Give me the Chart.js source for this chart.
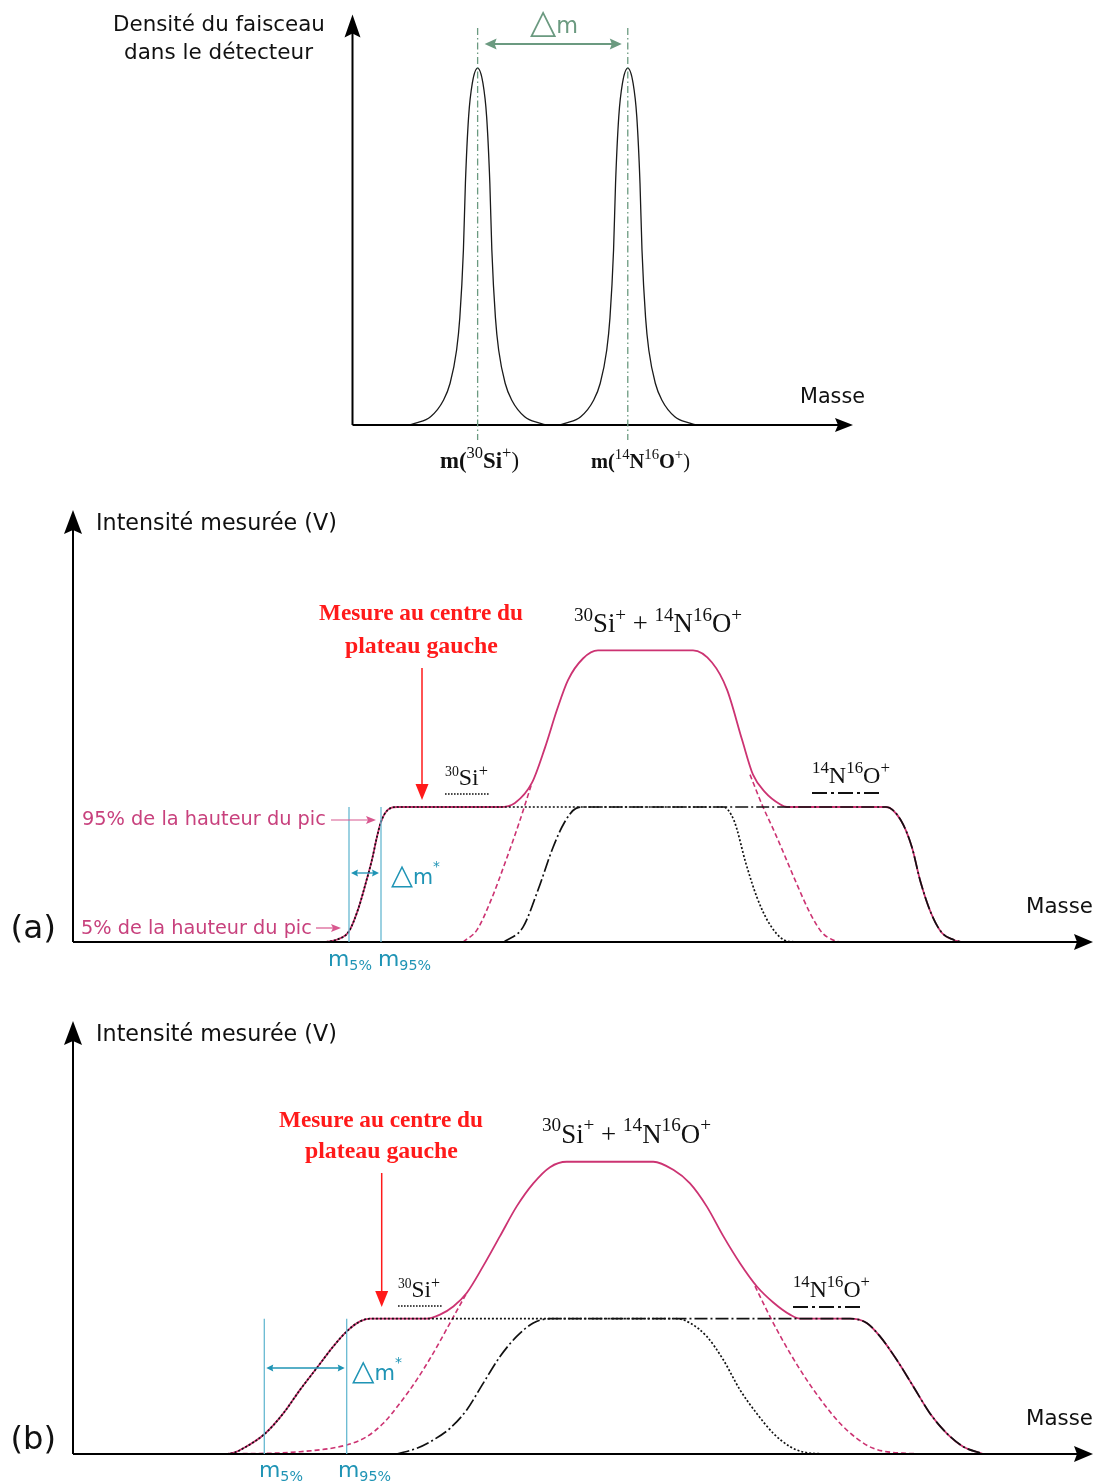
<!DOCTYPE html>
<html><head><meta charset="utf-8">
<script src="https://cdn.jsdelivr.net/npm/chart.js@4/dist/chart.umd.min.js"></script>
<style>
html,body{margin:0;padding:0;background:#fff;}
#wrap{position:relative;width:1093px;height:1483px;overflow:hidden;}
canvas{position:absolute;left:0;top:0;}
</style></head><body><div id="wrap">
<canvas id="cTop" width="1093" height="1483" style="width:1093px;height:1483px"></canvas>
<canvas id="cA" width="1093" height="1483" style="width:1093px;height:1483px"></canvas>
<canvas id="cB" width="1093" height="1483" style="width:1093px;height:1483px"></canvas>
</div>
<script>
// ---------- DATA ----------
// Top panel: beam density in the detector vs mass (arbitrary units)
const topSiMass = [11.4, 12.6, 15.6, 18.2, 19.5, 20.8, 21.44, 22.16, 22.56, 23.2, 23.94, 25, 26.06, 26.8, 27.44, 27.84, 28.56, 29.2, 30.5, 31.8, 34.4, 37.4, 38.6];
const topSiDensity = [0, 0.005, 0.023, 0.07, 0.117, 0.21, 0.30, 0.49, 0.678, 0.864, 0.958, 1, 0.958, 0.864, 0.678, 0.49, 0.30, 0.21, 0.117, 0.07, 0.023, 0.005, 0];
const topNOMass = [41.4, 42.6, 45.6, 48.2, 49.5, 50.8, 51.44, 52.16, 52.56, 53.2, 53.94, 55, 56.06, 56.8, 57.44, 57.84, 58.56, 59.2, 60.5, 61.8, 64.4, 67.4, 68.6];
const topNODensity = [0, 0.005, 0.023, 0.07, 0.117, 0.21, 0.30, 0.49, 0.678, 0.864, 0.958, 1, 0.958, 0.864, 0.678, 0.49, 0.30, 0.21, 0.117, 0.07, 0.023, 0.005, 0];
const topPeakMasses = [25, 55];

// Panel (a): measured intensity (plateau = 1)
const aSiMass = [25.3, 26.5, 27.6, 28.5, 29.4, 29.9, 30.4, 30.8, 31.5, 32.4, 65.0, 66.1, 67.3, 68.4, 69.6, 71.1, 72.2];
const aSiInt  = [0, 0.02, 0.08, 0.24, 0.47, 0.61, 0.78, 0.89, 0.98, 1, 1, 0.90, 0.58, 0.33, 0.14, 0.015, 0];
const aNOMass = [43.1, 45.0, 46.5, 48.0, 49.1, 50.3, 51.2, 81.3, 82.8, 83.9, 84.7, 85.8, 86.9, 88.1, 88.8];
const aNOInt  = [0, 0.11, 0.385, 0.70, 0.88, 0.99, 1, 1, 0.90, 0.70, 0.46, 0.215, 0.067, 0.015, 0];
const aSumMass = [25.3, 26.5, 27.6, 28.5, 29.4, 29.9, 30.4, 30.8, 31.5, 32.4, 41.0, 42.7, 44.2, 45.9, 47.2, 48.4, 49.5, 51.0, 52.5, 62.0, 63.9, 65.4, 66.9, 68.0, 69.2, 70.7, 71.4, 81.3, 82.8, 83.9, 84.7, 85.8, 86.9, 88.1, 88.8];
const aSumInt  = [0, 0.02, 0.08, 0.24, 0.47, 0.61, 0.78, 0.89, 0.98, 1, 1, 1, 1.03, 1.18, 1.44, 1.72, 1.94, 2.10, 2.16, 2.16, 2.07, 1.87, 1.50, 1.24, 1.11, 1.02, 1, 1, 0.90, 0.70, 0.46, 0.215, 0.067, 0.015, 0];
const aRiseMass = [39.0, 40.4, 41.8, 43.2, 44.6, 45.9];
const aRiseInt  = [0, 0.09, 0.31, 0.585, 0.88, 1.18];
const aFallMass = [67.7, 69.0, 70.0, 71.0, 72.2, 73.7, 74.9, 76.0, 76.7];
const aFallInt  = [1.24, 1.0, 0.84, 0.67, 0.46, 0.215, 0.07, 0.015, 0];
const aM5 = 27.6, aM95 = 30.8;

// Panel (b)
const bSiMass = [15.37, 16.2, 17.03, 19.13, 21.03, 22.7, 24.37, 26.03, 27.37, 28.7, 29.7, 60.37, 61.7, 63.37, 65.03, 66.7, 68.37, 70.03, 71.7, 73.0, 75.03];
const bSiInt  = [0, 0.012, 0.042, 0.146, 0.30, 0.474, 0.635, 0.795, 0.906, 0.98, 1, 1, 0.968, 0.869, 0.696, 0.474, 0.30, 0.153, 0.054, 0.015, 0];
const bNOMass = [32.37, 34.37, 36.03, 37.7, 39.37, 41.03, 42.7, 44.37, 46.03, 47.7, 77.7, 79.37, 80.7, 82.37, 84.03, 85.7, 87.37, 89.03, 91.03];
const bNOInt  = [0, 0.042, 0.104, 0.19, 0.326, 0.524, 0.72, 0.869, 0.968, 1, 1, 0.968, 0.869, 0.696, 0.499, 0.30, 0.153, 0.054, 0];
const bSumMass = [15.37, 16.2, 17.03, 19.13, 21.03, 22.7, 24.37, 26.03, 27.37, 28.7, 29.7, 35.37, 36.7, 38.03, 39.37, 41.03, 42.7, 44.37, 46.03, 47.7, 49.37, 58.03, 60.03, 61.7, 63.37, 65.03, 66.7, 68.37, 70.03, 71.7, 72.7, 77.7, 79.37, 80.7, 82.37, 84.03, 85.7, 87.37, 89.03, 91.03];
const bSumInt  = [0, 0.012, 0.042, 0.146, 0.30, 0.474, 0.635, 0.795, 0.906, 0.98, 1, 1, 1.03, 1.09, 1.19, 1.39, 1.61, 1.83, 2.0, 2.12, 2.16, 2.16, 2.10, 2.0, 1.83, 1.61, 1.41, 1.24, 1.12, 1.03, 1, 1, 0.968, 0.869, 0.696, 0.499, 0.30, 0.153, 0.054, 0];
const bRiseMass = [15.37, 22.7, 27.37, 29.37, 31.03, 32.7, 34.37, 36.03, 37.7, 39.37];
const bRiseInt  = [0, 0.017, 0.067, 0.128, 0.227, 0.376, 0.548, 0.746, 0.968, 1.19];
const bFallMass = [68.2, 70.03, 71.7, 73.37, 75.03, 76.7, 78.37, 80.03, 83.37, 86.7];
const bFallInt  = [1.24, 0.968, 0.746, 0.548, 0.376, 0.227, 0.116, 0.042, 0.005, 0];
const bM5 = 19.13, bM95 = 27.37;

// ---------- STYLE ----------
const SANS = '"DejaVu Sans", Verdana, sans-serif';
const SERIF = '"Liberation Serif", "Times New Roman", serif';
const PINK = '#cc3372', PINKTXT = '#c8417d', CYAN = '#1f94b5', CYANL = '#67b9d1', GREEN = '#6b9a80', RED = '#ff1a1a';
const W = 1093, H = 1483;

function pts(xs, ys) { return xs.map((x, i) => ({x: x, y: ys[i]})); }
function ds(xs, ys, color, dash, width, order) {
  return {data: pts(xs, ys), borderColor: color, borderDash: dash, borderWidth: width, order: order,
          fill: false, pointRadius: 0, cubicInterpolationMode: 'monotone', clip: false};
}
function line(ctx, x1, y1, x2, y2, color, w, dash) {
  ctx.save(); ctx.beginPath(); ctx.setLineDash(dash || []); ctx.strokeStyle = color; ctx.lineWidth = w;
  ctx.moveTo(x1, y1); ctx.lineTo(x2, y2); ctx.stroke(); ctx.restore();
}
function head(ctx, x, y, ang, len, half, color, notch) {
  ctx.save(); ctx.translate(x, y); ctx.rotate(ang); ctx.beginPath();
  ctx.moveTo(0, 0); ctx.lineTo(-len, -half); ctx.lineTo(-len + (notch || 0), 0); ctx.lineTo(-len, half);
  ctx.closePath(); ctx.fillStyle = color; ctx.fill(); ctx.restore();
}
function fitRich(ctx, parts, x0, x1, base, color) {
  let tot = 0;
  parts.forEach(p => { ctx.font = (p.w || 'normal') + ' ' + p.s + 'px ' + p.f; tot += ctx.measureText(p.t).width; });
  const k = (x1 - x0) / tot; let x = x0;
  ctx.fillStyle = color; ctx.textAlign = 'left'; ctx.textBaseline = 'alphabetic';
  parts.forEach(p => { ctx.font = (p.w || 'normal') + ' ' + (p.s * k).toFixed(2) + 'px ' + p.f;
    ctx.fillText(p.t, x, base + (p.dy || 0) * k); x += ctx.measureText(p.t).width; });
}

function makeChart(id, area, xr, yr, datasets, draw) {
  return new Chart(document.getElementById(id), {
    type: 'line',
    data: {datasets: datasets},
    options: {
      responsive: false, animation: false, devicePixelRatio: 1, events: [],
      layout: {padding: {left: area.l, top: area.t, right: W - area.r, bottom: H - area.b}},
      plugins: {legend: {display: false}, tooltip: {enabled: false}},
      scales: {x: {type: 'linear', display: false, min: xr[0], max: xr[1]},
               y: {type: 'linear', display: false, min: yr[0], max: yr[1]}}
    },
    plugins: [{id: 'deco', afterDatasetsDraw: draw}]
  });
}

// ---------- TOP PANEL ----------
function drawTop(c) {
  const ctx = c.ctx, a = c.chartArea, X = v => c.scales.x.getPixelForValue(v);
  line(ctx, a.left, a.bottom, a.left, a.top + 18, '#000', 2);
  head(ctx, a.left, a.top, -Math.PI / 2, 23, 8, '#000', 4);
  line(ctx, a.left, a.bottom, a.right - 14, a.bottom, '#000', 2);
  head(ctx, a.right, a.bottom, 0, 18, 7, '#000', 3);
  topPeakMasses.forEach(m => line(ctx, X(m), 28, X(m), 440, GREEN, 1.3, [7, 3, 1.5, 3]));
  const x1 = X(topPeakMasses[0]) + 7, x2 = X(topPeakMasses[1]) - 6;
  line(ctx, x1 + 6, 44, x2 - 6, 44, GREEN, 2);
  head(ctx, x1, 44, Math.PI, 12, 5.5, GREEN, 2);
  head(ctx, x2, 44, 0, 12, 5.5, GREEN, 2);
  fitRich(ctx, [{t: '△', s: 32, f: SANS}, {t: 'm', s: 21, f: SANS}], 530, 578, 33, GREEN);
  fitRich(ctx, [{t: 'Densité du faisceau', s: 20, f: SANS}], 113, 325, 31, '#111');
  fitRich(ctx, [{t: 'dans le détecteur', s: 20, f: SANS}], 124, 313, 59, '#111');
  fitRich(ctx, [{t: 'Masse', s: 20, f: SANS}], 800, 865, 403, '#111');
  fitRich(ctx, [{t: 'm(', s: 18, f: SERIF, w: 'bold'}, {t: '30', s: 13, f: SERIF, dy: -8}, {t: 'Si', s: 18, f: SERIF, w: 'bold'},
                {t: '+', s: 13, f: SERIF, dy: -8}, {t: ')', s: 18, f: SERIF}], 440, 519, 468, '#111');
  fitRich(ctx, [{t: 'm(', s: 18, f: SERIF, w: 'bold'}, {t: '14', s: 13, f: SERIF, dy: -8}, {t: 'N', s: 18, f: SERIF, w: 'bold'},
                {t: '16', s: 13, f: SERIF, dy: -8}, {t: 'O', s: 18, f: SERIF, w: 'bold'}, {t: '+', s: 13, f: SERIF, dy: -8},
                {t: ')', s: 18, f: SERIF}], 591, 690, 468, '#111');
}
makeChart('cTop', {l: 352.5, r: 853, t: 14.5, b: 425}, [0, 100], [0, 1.15], [
  ds(topSiMass, topSiDensity, '#1a1a1a', [], 1.3, 0),
  ds(topNOMass, topNODensity, '#1a1a1a', [], 1.3, 0)
], drawTop);

// ---------- PANELS (a) and (b) ----------
function drawPanel(c, P) {
  const ctx = c.ctx, a = c.chartArea, X = v => c.scales.x.getPixelForValue(v), Y = v => c.scales.y.getPixelForValue(v);
  line(ctx, a.left, a.bottom, a.left, a.top + 20, '#000', 2);
  head(ctx, a.left, a.top, -Math.PI / 2, 24, 9, '#000', 4);
  line(ctx, a.left, a.bottom, a.right - 15, a.bottom, '#000', 2);
  head(ctx, a.right, a.bottom, 0, 19, 8, '#000', 3);
  fitRich(ctx, [{t: 'Intensité mesurée (V)', s: 20, f: SANS}], 96, 337, P.titleB, '#111');
  fitRich(ctx, [{t: P.label, s: 32, f: SANS}], 10.5, 56, P.labelB, '#111');
  fitRich(ctx, [{t: 'Masse', s: 20, f: SANS}], P.masse[0], P.masse[1], P.masse[2], '#111');
  // red note + arrow
  fitRich(ctx, [{t: 'Mesure au centre du', s: 21, f: SERIF, w: 'bold'}], P.r1[0], P.r1[1], P.r1[2], RED);
  fitRich(ctx, [{t: 'plateau gauche', s: 21, f: SERIF, w: 'bold'}], P.r2[0], P.r2[1], P.r2[2], RED);
  line(ctx, P.ra[0], P.ra[1], P.ra[0], P.ra[2] - 12, RED, 1.5);
  head(ctx, P.ra[0], P.ra[2], Math.PI / 2, 16, 6.5, RED, 0);
  // cyan markers
  const xm5 = X(P.m5), xm95 = X(P.m95);
  line(ctx, xm5, Y(1), xm5, Y(0), CYANL, 1.3);
  line(ctx, xm95, Y(1), xm95, Y(0), CYANL, 1.3);
  line(ctx, xm5 + 7, P.cy, xm95 - 7, P.cy, CYAN, 1.3);
  head(ctx, xm5 + 2, P.cy, Math.PI, 7, 3.5, CYAN, 1);
  head(ctx, xm95 - 2, P.cy, 0, 7, 3.5, CYAN, 1);
  fitRich(ctx, [{t: '△', s: 25, f: SANS}, {t: 'm', s: 18, f: SANS}, {t: '*', s: 12, f: SANS, dy: -11}], P.dm[0], P.dm[1], P.dm[2], CYAN);
  fitRich(ctx, [{t: 'm', s: 20, f: SANS}, {t: '5%', s: 13, f: SANS, dy: 4}], P.l5[0], P.l5[1], P.l5[2], CYAN);
  fitRich(ctx, [{t: 'm', s: 20, f: SANS}, {t: '95%', s: 13, f: SANS, dy: 4}], P.l95[0], P.l95[1], P.l95[2], CYAN);
  // species labels
  fitRich(ctx, [{t: '30', s: 11, f: SERIF, dy: -7}, {t: 'Si', s: 19, f: SERIF}, {t: '+', s: 13, f: SERIF, dy: -7}], P.si[0], P.si[1], P.si[2], '#111');
  line(ctx, P.si[0], P.si[2] + 9, P.si[0] + 45, P.si[2] + 9, '#111', 1.6, [1.6, 1.4]);
  fitRich(ctx, [{t: '14', s: 14, f: SERIF, dy: -8}, {t: 'N', s: 20, f: SERIF}, {t: '16', s: 14, f: SERIF, dy: -8},
                {t: 'O', s: 20, f: SERIF}, {t: '+', s: 14, f: SERIF, dy: -8}], P.no[0], P.no[1], P.no[2], '#111');
  line(ctx, P.no[0], P.no[2] + 10, P.no[0] + 67, P.no[2] + 10, '#111', 2, [15, 4, 3, 4]);
  fitRich(ctx, [{t: '30', s: 15, f: SERIF, dy: -9}, {t: 'Si', s: 21, f: SERIF}, {t: '+', s: 15, f: SERIF, dy: -9},
                {t: ' + ', s: 21, f: SERIF}, {t: '14', s: 15, f: SERIF, dy: -9}, {t: 'N', s: 21, f: SERIF},
                {t: '16', s: 15, f: SERIF, dy: -9}, {t: 'O', s: 21, f: SERIF}, {t: '+', s: 15, f: SERIF, dy: -9}],
          P.sum[0], P.sum[1], P.sum[2], '#111');
  if (P.pinkNotes) {
    fitRich(ctx, [{t: '95% de la hauteur du pic', s: 18, f: SANS}], 82, 326, 825, PINKTXT);
    line(ctx, 331, 820, 368, 820, '#d8588f', 1.2);
    head(ctx, 376, 820, 0, 10, 4, '#d8588f', 2);
    fitRich(ctx, [{t: '5% de la hauteur du pic', s: 18, f: SANS}], 81, 312, 934, PINKTXT);
    line(ctx, 316, 928, 333, 928, '#d8588f', 1.2);
    head(ctx, 341, 928, 0, 10, 4, '#d8588f', 2);
  }
}
function panelSets(siM, siI, noM, noI, sumM, sumI, rM, rI, fM, fI) {
  return [
    ds(siM, siI, '#111', [2, 2], 1.7, 0),
    ds(noM, noI, '#111', [13, 3, 2, 3], 1.7, 1),
    ds(sumM, sumI, PINK, [], 1.8, 3),
    ds(rM, rI, PINK, [5, 3], 1.6, 2),
    ds(fM, fI, PINK, [5, 3], 1.6, 2)
  ];
}
makeChart('cA', {l: 73, r: 1093, t: 510, b: 942}, [0, 102], [0, 3.2],
  panelSets(aSiMass, aSiInt, aNOMass, aNOInt, aSumMass, aSumInt, aRiseMass, aRiseInt, aFallMass, aFallInt),
  c => drawPanel(c, {label: '(a)', labelB: 938, titleB: 530, masse: [1026, 1093, 913],
    r1: [319, 523, 620], r2: [345, 498, 653], ra: [422, 668, 800],
    m5: aM5, m95: aM95, cy: 873, dm: [391, 440, 884], l5: [328, 372, 966], l95: [378, 431, 966],
    si: [445, 488, 785], no: [812, 890, 783], sum: [574, 742, 632], pinkNotes: true}));
makeChart('cB', {l: 73, r: 1093, t: 1021, b: 1454}, [0, 102], [0, 3.2],
  panelSets(bSiMass, bSiInt, bNOMass, bNOInt, bSumMass, bSumInt, bRiseMass, bRiseInt, bFallMass, bFallInt),
  c => drawPanel(c, {label: '(b)', labelB: 1449, titleB: 1041, masse: [1026, 1093, 1425],
    r1: [279, 483, 1127], r2: [305, 458, 1158], ra: [381.7, 1173, 1307],
    m5: bM5, m95: bM95, cy: 1368, dm: [352, 402, 1380], l5: [259, 303, 1477], l95: [338, 391, 1477],
    si: [398, 440, 1297], no: [793, 870, 1297], sum: [542, 711, 1143], pinkNotes: false}));
</script></body></html>
